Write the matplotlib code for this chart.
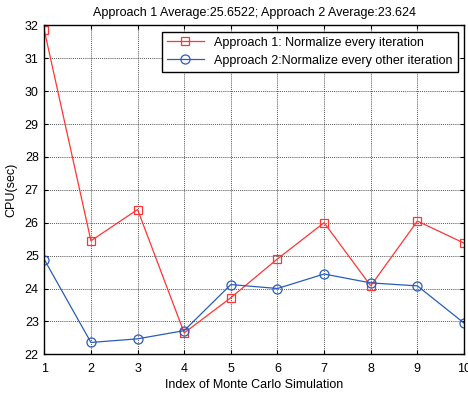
import matplotlib.pyplot as plt

plt.rcParams["font.family"] = ["Liberation Sans", "DejaVu Sans"]

runs = [1, 2, 3, 4, 5, 6, 7, 8, 9, 10]
cpu_approach1 = [31.85, 25.45, 26.40, 22.65, 23.72, 24.90, 26.00, 24.08, 26.05, 25.38]
cpu_approach2 = [24.88, 22.36, 22.47, 22.72, 24.12, 24.00, 24.44, 24.17, 24.08, 22.95]

fig = plt.figure(figsize=(4.68, 3.93), dpi=100)
ax = fig.add_axes([44.3 / 468, 1 - 354.3 / 393, (464 - 44.3) / 468, (354.3 - 25.3) / 393])

ax.plot(runs, cpu_approach1, color="#ff3535", lw=0.9, marker="s", ms=6.3,
        mfc="none", mec="#ff3535", mew=0.9,
        label="Approach 1: Normalize every iteration")
ax.plot(runs, cpu_approach2, color="#2a5db8", lw=0.9, marker="o", ms=6.5,
        mfc="none", mec="#2a5db8", mew=0.9,
        label="Approach 2:Normalize every other iteration")

ax.set_xlim(1, 10)
ax.set_ylim(22, 32)
ax.set_xticks(runs)
ax.set_yticks(range(22, 33))
ax.grid(True, color="#222222", linestyle=(0, (1, 1.3)), linewidth=0.6)
ax.tick_params(axis="x", direction="in", top=True, labelsize=9, length=3, pad=6)
ax.tick_params(axis="y", direction="in", right=True, labelsize=9, length=3, pad=4)
for s in ax.spines.values():
    s.set_linewidth(1.0)

ax.set_title("Approach 1 Average:25.6522; Approach 2 Average:23.624",
             fontsize=9, pad=7)
ax.set_xlabel("Index of Monte Carlo Simulation", fontsize=9, labelpad=3)
ax.set_ylabel("CPU(sec)", fontsize=9, labelpad=5)

leg = ax.legend(loc="upper right", fontsize=9, fancybox=False, framealpha=1,
                edgecolor="black", borderaxespad=0.5, handlelength=3.0)
leg.get_frame().set_linewidth(1.0)

fig.savefig("out.png", dpi=100)
